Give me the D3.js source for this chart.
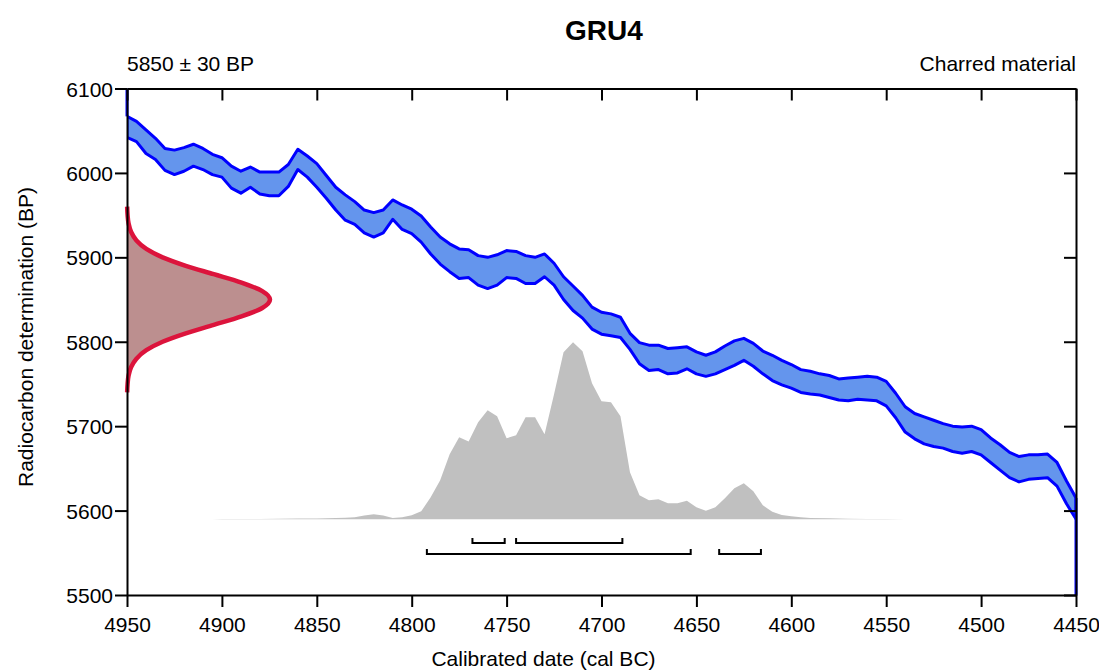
<!DOCTYPE html>
<html>
<head>
<meta charset="utf-8">
<script src="https://cdn.jsdelivr.net/npm/d3@7"></script>
<style>
body { margin: 0; background: #fff; }
text { font-family: "Liberation Sans", Arial, Helvetica, sans-serif; fill: #000; }
</style>
</head>
<body>
<div id="chart"></div>
<script>
// calibration curve, cal BC, 5 year steps
const curveYears = [
    4950, 4945, 4940, 4935, 4930, 4925, 4920, 4915, 4910, 4905,
    4900, 4895, 4890, 4885, 4880, 4875, 4870, 4865, 4860, 4855,
    4850, 4845, 4840, 4835, 4830, 4825, 4820, 4815, 4810, 4805,
    4800, 4795, 4790, 4785, 4780, 4775, 4770, 4765, 4760, 4755,
    4750, 4745, 4740, 4735, 4730, 4725, 4720, 4715, 4710, 4705,
    4700, 4695, 4690, 4685, 4680, 4675, 4670, 4665, 4660, 4655,
    4650, 4645, 4640, 4635, 4630, 4625, 4620, 4615, 4610, 4605,
    4600, 4595, 4590, 4585, 4580, 4575, 4570, 4565, 4560, 4555,
    4550, 4545, 4540, 4535, 4530, 4525, 4520, 4515, 4510, 4505,
    4500, 4495, 4490, 4485, 4480, 4475, 4470, 4465, 4460, 4455,
    4450]
// upper edge of the curve (BP)
const curveUpper = [
    6067, 6061, 6051, 6041, 6029, 6027, 6030, 6034, 6029, 6022,
    6018, 6008, 6002, 6007, 6001, 6001, 6001, 6010, 6028, 6020,
    6011, 5997, 5983, 5974, 5966, 5956, 5953, 5956, 5968, 5962,
    5957, 5949, 5936, 5924, 5916, 5910, 5909, 5902, 5900, 5903,
    5908, 5907, 5902, 5900, 5904, 5893, 5877, 5866, 5855, 5841,
    5835, 5833, 5829, 5810, 5799, 5796, 5796, 5792, 5793, 5794,
    5788, 5784, 5788, 5795, 5801, 5804, 5798, 5789, 5784, 5778,
    5773, 5767, 5765, 5762, 5760, 5756, 5757, 5758, 5759, 5758,
    5753, 5739, 5723, 5715, 5711, 5707, 5703, 5700, 5699, 5700,
    5696, 5686, 5678, 5669, 5664, 5666, 5666, 5667, 5657, 5635,
    5615]
// lower edge of the curve (BP)
const curveLower = [
    6042, 6037, 6023, 6016, 6003, 5998, 6002, 6008, 6004, 5998,
    5995, 5982, 5976, 5983, 5975, 5973, 5973, 5984, 6004, 5995,
    5983, 5970, 5956, 5944, 5939, 5929, 5924, 5929, 5945, 5933,
    5928, 5918, 5904, 5892, 5883, 5875, 5876, 5867, 5863, 5867,
    5876, 5875, 5869, 5869, 5877, 5867, 5850, 5837, 5828, 5815,
    5809, 5807, 5805, 5791, 5774, 5766, 5767, 5762, 5763, 5768,
    5762, 5759, 5762, 5767, 5772, 5778, 5771, 5762, 5754, 5749,
    5745, 5740, 5738, 5737, 5734, 5731, 5730, 5732, 5731, 5730,
    5724, 5710, 5693, 5685, 5679, 5676, 5674, 5670, 5668, 5670,
    5666, 5657, 5648, 5639, 5634, 5637, 5638, 5639, 5629, 5608,
    5590]

// radiocarbon date 5850 +- 30 BP, relative probability
const bpValues = [5740, 5750, 5760, 5770, 5780, 5790, 5800, 5810, 5820, 5830, 5840, 5850,
    5860, 5870, 5880, 5890, 5900, 5910, 5920, 5930, 5940, 5950, 5960]
const bpProb = [0.001, 0.004, 0.011, 0.029, 0.066, 0.135, 0.249, 0.411, 0.607, 0.801, 0.946, 1,
    0.946, 0.801, 0.607, 0.411, 0.249, 0.135, 0.066, 0.029, 0.011, 0.004, 0.001]

// calibrated distribution (cal BC), relative probability
const calYears = [4905, 4900, 4890, 4880, 4870, 4860, 4850, 4845, 4840, 4835, 4830, 4825,
    4820, 4815, 4810, 4805, 4800, 4795, 4790, 4785, 4780, 4775, 4770, 4765, 4760, 4755,
    4750, 4745, 4740, 4735, 4730, 4725, 4720, 4715, 4710, 4705, 4700, 4695, 4690, 4685,
    4680, 4675, 4670, 4665, 4660, 4655, 4650, 4645, 4640, 4635, 4630, 4625, 4620, 4615,
    4610, 4605, 4600, 4595, 4590, 4580, 4570, 4560, 4550, 4540]
const calProb = [0, 0.001, 0.002, 0.002, 0.003, 0.004, 0.005, 0.006, 0.007, 0.009, 0.012, 0.022,
    0.029, 0.021, 0.007, 0.011, 0.023, 0.045, 0.124, 0.22, 0.367, 0.463, 0.44, 0.548, 0.616, 0.582,
    0.458, 0.475, 0.576, 0.576, 0.48, 0.706, 0.944, 1.0, 0.949, 0.768, 0.667, 0.661, 0.582, 0.266,
    0.136, 0.107, 0.113, 0.09, 0.09, 0.105, 0.068, 0.048, 0.068, 0.119, 0.175, 0.203, 0.158, 0.079,
    0.042, 0.025, 0.017, 0.011, 0.008, 0.006, 0.003, 0.002, 0.001, 0]

// ranges (cal BC)
const range68 = [[4768, 4751], [4745, 4689]]
const range95 = [[4792, 4653], [4638, 4616]]

const xTicks = [4950, 4900, 4850, 4800, 4750, 4700, 4650, 4600, 4550, 4500, 4450]
const yTicks = [5500, 5600, 5700, 5800, 5900, 6000, 6100]

const title = "GRU4"
const dateLabel = "5850 \u00b1 30 BP"
const materialLabel = "Charred material"

// set the dimensions
const width = 1099, height = 671
const plot = { left: 127, right: 1076, top: 88.5, bottom: 595 }

const svg = d3.select("#chart")
    .append("svg")
    .attr("width", width)
    .attr("height", height)

const x = d3.scaleLinear().domain([4950, 4450]).range([plot.left, plot.right])
const y = d3.scaleLinear().domain([5500, 6100]).range([plot.bottom, plot.top])
const xr = d3.scaleLinear().domain([0, 1]).range([plot.left, plot.left + 143])
const yp = d3.scaleLinear().domain([0, 1]).range([519.3, 342.3])

svg.append("clipPath").attr("id", "plotClip")
    .append("rect")
    .attr("x", plot.left).attr("y", plot.top)
    .attr("width", plot.right - plot.left).attr("height", plot.bottom - plot.top)

// calibration curve band
const upperPts = curveYears.map((d, i) => [x(d), y(curveUpper[i])])
const lowerPts = curveYears.map((d, i) => [x(d), y(curveLower[i])]).reverse()
svg.append("path")
    .attr("clip-path", "url(#plotClip)")
    .attr("d", "M" + upperPts.concat(lowerPts).join("L") + "Z")
    .attr("fill", "#6495ED")
    .attr("stroke", "#0000FF")
    .attr("stroke-width", 3)
    .attr("stroke-linejoin", "round")

// edges where the curve leaves the plot
svg.append("line")
    .attr("x1", x(4950)).attr("x2", x(4950))
    .attr("y1", y(6100)).attr("y2", y(curveUpper[0]))
    .attr("stroke", "#0000FF").attr("stroke-width", 3)
svg.append("line")
    .attr("x1", x(4450)).attr("x2", x(4450))
    .attr("y1", y(curveUpper[curveUpper.length - 1])).attr("y2", y(5500))
    .attr("stroke", "#0000FF").attr("stroke-width", 3)

// calibrated distribution
svg.append("path")
    .datum(calYears.map((d, i) => [d, calProb[i]]))
    .attr("d", d3.area()
        .x(d => x(d[0]))
        .y0(yp(0))
        .y1(d => yp(d[1])))
    .attr("fill", "#C0C0C0")

// radiocarbon date on the y axis
const rcData = bpValues.map((d, i) => [d, bpProb[i]])
svg.append("path")
    .datum(rcData)
    .attr("d", d3.area()
        .y(d => y(d[0]))
        .x0(xr(0))
        .x1(d => xr(d[1]))
        .curve(d3.curveMonotoneY))
    .attr("fill", "#BC8F8F")
svg.append("path")
    .datum(rcData)
    .attr("d", d3.line()
        .y(d => y(d[0]))
        .x(d => xr(d[1]))
        .curve(d3.curveMonotoneY))
    .attr("fill", "none")
    .attr("stroke", "#DC143C")
    .attr("stroke-width", 4.5)

// range brackets
function drawRanges(ranges, yy) {
    ranges.forEach(r => {
        const x0 = x(r[0]), x1 = x(r[1])
        svg.append("path")
            .attr("d", `M${x0},${yy - 5}V${yy}H${x1}V${yy - 5}`)
            .attr("fill", "none")
            .attr("stroke", "#000")
            .attr("stroke-width", 2)
    })
}
drawRanges(range68, 543)
drawRanges(range95, 554)

// axes
const fs = "21px"
const gx = svg.append("g")
    .attr("transform", `translate(0, ${plot.bottom})`)
    .call(d3.axisBottom(x).tickValues(xTicks).tickFormat(d => d)
        .tickSize(12).tickSizeOuter(0).tickPadding(10))
const gxTop = svg.append("g")
    .attr("transform", `translate(0, ${plot.top})`)
    .call(d3.axisBottom(x).tickValues(xTicks).tickFormat("")
        .tickSize(12).tickSizeOuter(0))
const gy = svg.append("g")
    .attr("transform", `translate(${plot.left}, 0)`)
    .call(d3.axisLeft(y).tickValues(yTicks).tickFormat(d => d)
        .tickSize(12).tickSizeOuter(0).tickPadding(2))
const gyRight = svg.append("g")
    .attr("transform", `translate(${plot.right}, 0)`)
    .call(d3.axisLeft(y).tickValues(yTicks).tickFormat("")
        .tickSize(12).tickSizeOuter(0))

svg.selectAll(".domain, .tick line")
    .attr("stroke", "#000")
    .attr("stroke-width", 2)
svg.selectAll(".tick text")
    .attr("font-size", fs)
    .attr("font-family", "'Liberation Sans', Arial, sans-serif")
    .attr("fill", "#000")
gy.selectAll(".tick text").attr("dy", "0.36em")

// texts
svg.append("text")
    .attr("x", 604).attr("y", 40)
    .attr("text-anchor", "middle")
    .attr("font-size", "28px")
    .attr("font-weight", "bold")
    .text(title)
svg.append("text")
    .attr("x", plot.left).attr("y", 70.5)
    .attr("font-size", fs)
    .text(dateLabel)
svg.append("text")
    .attr("x", plot.right).attr("y", 70.5)
    .attr("text-anchor", "end")
    .attr("font-size", fs)
    .text(materialLabel)
svg.append("text")
    .attr("x", 543.5).attr("y", 666)
    .attr("text-anchor", "middle")
    .attr("font-size", fs)
    .text("Calibrated date (cal BC)")
svg.append("text")
    .attr("transform", "translate(32.5, 337) rotate(-90)")
    .attr("text-anchor", "middle")
    .attr("font-size", fs)
    .text("Radiocarbon determination (BP)")
</script>
</body>
</html>
